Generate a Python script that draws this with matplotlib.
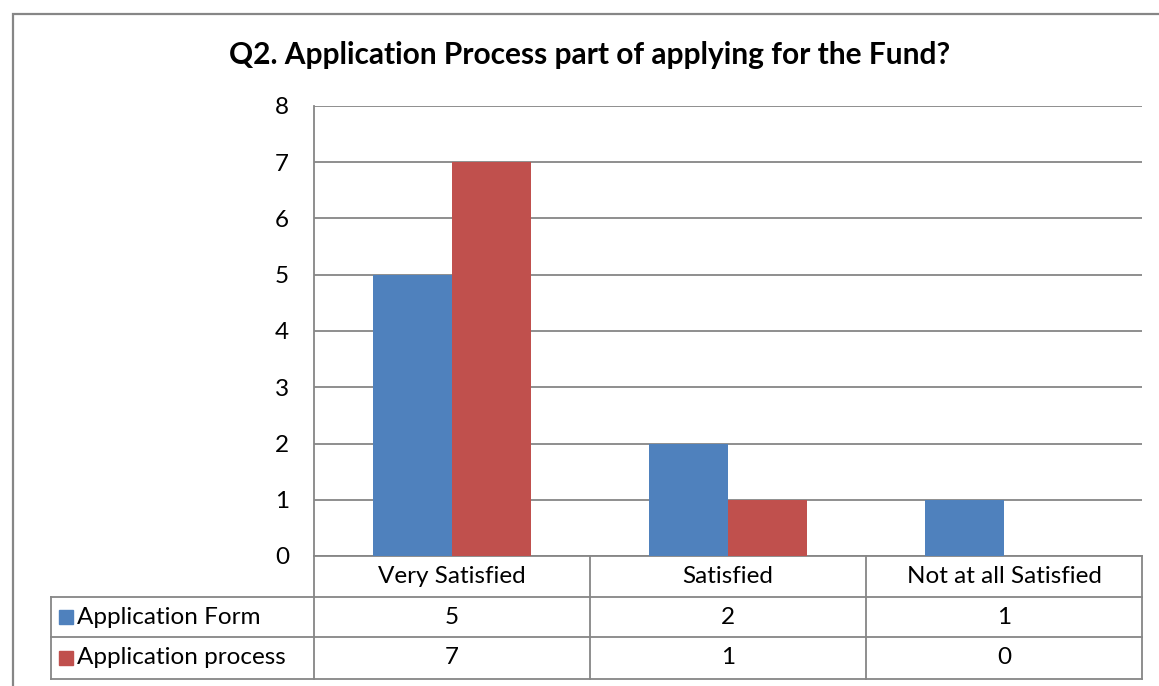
import matplotlib.pyplot as plt
from matplotlib.patches import Rectangle
from matplotlib.transforms import blended_transform_factory
import numpy as np

plt.rcParams['font.family'] = ['Lato', 'DejaVu Sans']

# Data
categories = ['Very Satisfied', 'Satisfied', 'Not at all Satisfied']
series_names = ['Application Form', 'Application process']
application_form = [5, 2, 1]
application_process = [7, 1, 0]
colors = ['#4F81BD', '#C0504D']
grid_color = '#868686'

W, H = 1159, 686
fs = 17.5
fig = plt.figure(figsize=(W / 100, H / 100), dpi=100)

# outer chart frame
fig.patches.append(Rectangle((13 / W, -0.05), 1.1, (H - 14) / H + 0.05,
                             transform=fig.transFigure, fill=False,
                             edgecolor=grid_color, lw=1.6))

ax = fig.add_axes([314 / W, (H - 556) / H, 828 / W, 450 / H])

x = np.arange(len(categories))
bw = 0.286
ax.bar(x - bw / 2, application_form, bw, color=colors[0], zorder=3)
ax.bar(x + bw / 2, application_process, bw, color=colors[1], zorder=3)

ax.set_xlim(-0.5, len(categories) - 0.5)
ax.set_ylim(0, 8)
ax.set_yticks(range(0, 9))
ax.yaxis.grid(True, color=grid_color, lw=1.3, zorder=0)
ax.set_xticks([])
ax.tick_params(axis='y', length=0, pad=18, labelsize=fs)
for s in ['top', 'right', 'bottom']:
    ax.spines[s].set_visible(False)
ax.spines['left'].set_color(grid_color)
ax.spines['left'].set_linewidth(1.3)

fig.suptitle('Q2. Application Process part of applying for the Fund?',
             x=590 / W, y=1 - 55 / H, va='center', fontsize=21.5, fontweight='bold')

# data table below the axis
tr = blended_transform_factory(ax.transData, ax.transAxes)
px = 450.0
row_y = [0, -41 / px, -81 / px, -123 / px]
left_x = -0.5 - 263 / 276
right_x = len(categories) - 0.5
lkw = dict(color=grid_color, lw=1.3, transform=tr, clip_on=False)

# horizontal lines
ax.plot([-0.5, right_x], [row_y[0], row_y[0]], **lkw)
for yy in row_y[1:]:
    ax.plot([left_x, right_x], [yy, yy], **lkw)
# vertical lines
ax.plot([left_x, left_x], [row_y[1], row_y[3]], **lkw)
for xv in np.arange(len(categories) + 1) - 0.5:
    ax.plot([xv, xv], [row_y[0], row_y[3]], **lkw)

# header row
for i, c in enumerate(categories):
    ax.text(i, (row_y[0] + row_y[1]) / 2, c, transform=tr, ha='center',
            va='center', fontsize=fs)

# series rows
for r, (name, vals) in enumerate(zip(series_names, [application_form, application_process])):
    yc = (row_y[r + 1] + row_y[r + 2]) / 2
    key_w = 14 / 276
    key_h = 14 / px
    ax.add_patch(Rectangle((left_x + 8 / 276, yc - key_h / 2), key_w, key_h,
                           transform=tr, color=colors[r], clip_on=False))
    ax.text(left_x + 26 / 276, yc, name, transform=tr, ha='left',
            va='center', fontsize=fs)
    for i, v in enumerate(vals):
        ax.text(i, yc, str(v), transform=tr, ha='center', va='center', fontsize=fs)

fig.savefig('out.png', dpi=100)
